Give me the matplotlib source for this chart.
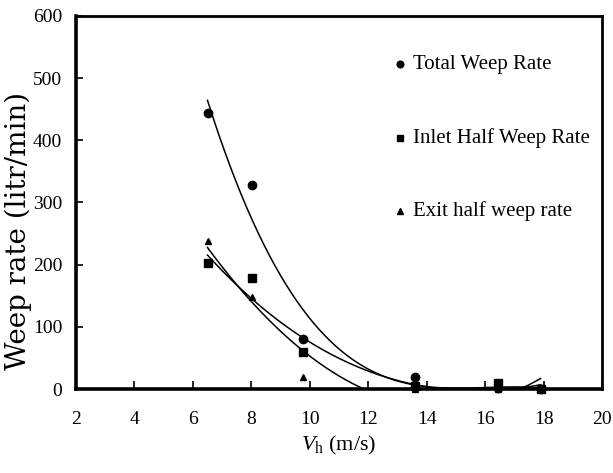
import numpy as np
import matplotlib
matplotlib.use("Agg")
import matplotlib.pyplot as plt

# weep rate vs hole velocity
vh = [6.5, 8.03, 9.78, 13.6, 16.45, 17.9]
total = [444, 328, 80, 20, 2, 0]
inlet = [202, 178, 59, 5, 10, 0]
exitHalf = [238, 148, 20, 0, 0, 0]

xTicks = [2, 4, 6, 8, 10, 12, 14, 16, 18, 20]
yTicks = [0, 100, 200, 300, 400, 500, 600]

plt.rcParams["font.family"] = ["Liberation Serif", "DejaVu Serif"]
plt.rcParams["mathtext.fontset"] = "custom"
plt.rcParams["mathtext.it"] = "Liberation Serif:italic"
plt.rcParams["mathtext.rm"] = "Liberation Serif"

fig = plt.figure(figsize=(6.13, 4.73), dpi=100)
ax = fig.add_axes([76/613, 84/473, 526/613, 373/473])

xFit = np.linspace(min(vh), max(vh), 300)
for y, deg in [(total, 3), (inlet, 3), (exitHalf, 2)]:
    coef = np.polyfit(vh, y, deg)
    ax.plot(xFit, np.polyval(coef, xFit), color="black", lw=1.1)

ax.plot(vh, total, "o", color="black", ms=6, clip_on=False)
ax.plot(vh, inlet, "s", color="black", ms=5.5, clip_on=False)
ax.plot(vh, exitHalf, "^", color="black", ms=5, clip_on=False)

ax.set_xlim(2, 20)
ax.set_ylim(0, 600)
ax.set_xticks(xTicks)
ax.set_yticks(yTicks)
ax.tick_params(axis="x", direction="in", length=6, width=1.2, pad=16, labelsize=14)
ax.tick_params(axis="y", direction="in", length=5, width=1.2, pad=10, labelsize=14)
for side in ["left", "bottom"]:
    ax.spines[side].set_linewidth(2.6)
for side in ["top", "right"]:
    ax.spines[side].set_linewidth(2.0)

fig.text(18/613, 1 - 231/473, "Weep rate (litr/min)", family="DejaVu Serif", fontsize=20,
         rotation=90, ha="center", va="center")
ax.set_xlabel(r"$V_\mathrm{h}$ (m/s)", fontsize=16, labelpad=4)

# legend written by hand, as in the original
legendItems = [("o", 6, "Total Weep Rate"), ("s", 5.5, "Inlet Half Weep Rate"),
               ("^", 5, "Exit half weep rate")]
for i, (mk, ms, txt) in enumerate(legendItems):
    yPos = 0.87 - i * 0.196
    ax.plot([0.616], [yPos], mk, color="black", ms=ms * 0.8, transform=ax.transAxes)
    ax.text(0.64, yPos, txt, transform=ax.transAxes, fontsize=15, va="center")

fig.savefig("out.png", dpi=100)
